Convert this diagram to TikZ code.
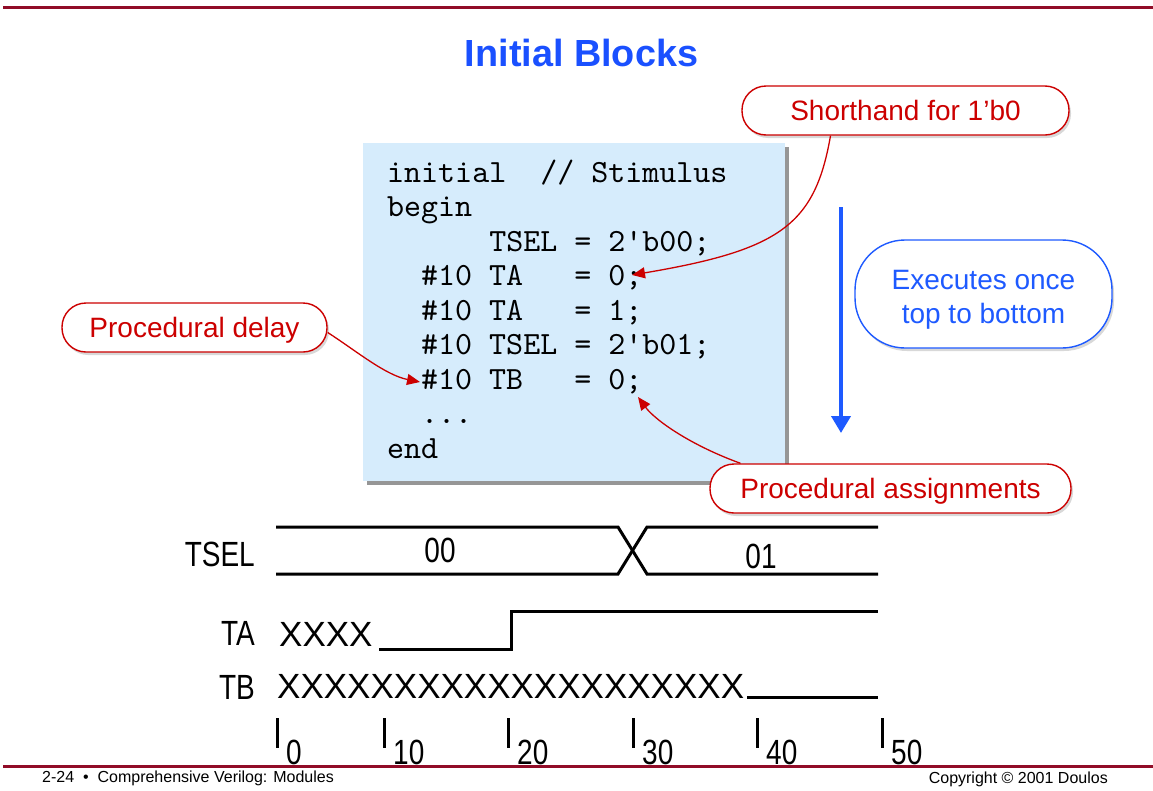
\documentclass[tikz,border=0pt]{standalone}
\usepackage{fontspec}
\setmainfont{Liberation Sans}
\setmonofont{lmmono10-regular}[Extension=.otf]
\newfontfamily\narrowfont{Liberation Sans}[FakeStretch=0.8]
\usetikzlibrary{arrows.meta,shadows}

\definecolor{titleblue}{RGB}{26,80,255}
\definecolor{noteblue}{RGB}{30,90,255}
\definecolor{notered}{RGB}{204,0,0}
\definecolor{codebg}{RGB}{214,236,252}
\definecolor{codeshadow}{RGB}{150,150,150}
\definecolor{rulered}{RGB}{145,12,40}

\begin{document}
\begin{tikzpicture}[x=1pt,y=-1pt,
  rule/.style={draw=rulered,line width=3pt},
  heading/.style={font=\bfseries\fontsize{37.8}{42}\selectfont,text=titleblue,inner sep=0},
  codeline/.style={font=\ttfamily\fontsize{32.4}{34}\selectfont,anchor=base west,inner sep=0},
  callout/.style={draw=notered,line width=1.4pt,fill=white,rounded corners=24pt,
    minimum height=49pt,text=notered,font=\fontsize{28}{34}\selectfont,inner sep=0,
    text height=26pt,text depth=6pt,
    drop shadow={shadow xshift=2pt,shadow yshift=-3pt,fill=black!30,opacity=0.5}},
  bluenote/.style={draw=noteblue,line width=1.4pt,fill=white,rounded corners=50pt,
    text=noteblue,font=\fontsize{28}{34}\selectfont,align=center,inner sep=0,
    text height=60pt,text depth=2pt,
    drop shadow={shadow xshift=2pt,shadow yshift=-3pt,fill=black!30,opacity=0.5}},
  pointer/.style={draw=notered,line width=1.3pt,-{Triangle[length=13pt,width=11pt]},fill=none},
  flow/.style={draw=noteblue,line width=4pt,-{Triangle[length=17pt,width=19pt]}},
  wave/.style={line width=3pt},
  sig/.style={font=\narrowfont\fontsize{35}{40}\selectfont,inner sep=0},
  xs/.style={font=\fontsize{35}{40}\selectfont,inner sep=0,anchor=base west},
  footer/.style={font=\fontsize{16}{19}\selectfont,inner sep=0}]
\useasboundingbox (0,0) rectangle (1153,790);

% header and footer rules
\draw[rule] (3,7) -- (1153,7);
\draw[rule] (3,766) -- (1153,766);

% title
\node[heading,anchor=base] (title) at (581.5,66) {Initial Blocks};

% code listing
\node[fill=codebg,minimum width=422pt,minimum height=338pt,inner sep=0,anchor=north west,
  drop shadow={shadow xshift=4pt,shadow yshift=-4pt,fill=codeshadow,opacity=1}]
  (codebox) at (363,143) {};
\node[codeline] (l1) at (387,182)   {initial~~//~Stimulus};
\node[codeline] (l2) at (387,216.5) {begin};
\node[codeline] (l3) at (387,251)   {~~~~~~TSEL~=~2'b00;};
\node[codeline] (l4) at (387,285.5) {~~\#10~TA~~~=~0;};
\node[codeline] (l5) at (387,320)   {~~\#10~TA~~~=~1;};
\node[codeline] (l6) at (387,354.5) {~~\#10~TSEL~=~2'b01;};
\node[codeline] (l7) at (387,389)   {~~\#10~TB~~~=~0;};
\node[codeline] (l8) at (387,423.5) {~~...};
\node[codeline] (l9) at (387,458)   {end};

% annotations
\node[callout,minimum width=327pt] (shorthand) at (905.5,110.5) {Shorthand for 1’b0};
\node[bluenote,minimum width=257pt,minimum height=108pt] (once) at (983.5,294) {Executes once\\top to bottom};
\node[callout,minimum width=265pt] (delay) at (194.5,327.5) {Procedural delay};
\node[callout,minimum width=361pt] (assign) at (890.5,488.5) {Procedural assignments};

\coordinate (zeroTA) at (632,275);
\coordinate (hashTB) at (420,382);
\coordinate (zeroTB) at (638,397);
\coordinate (flowtop) at (841,207);
\coordinate (flowend) at (841,433);

\draw[pointer] ([xshift=-75pt]shorthand.south) .. controls (815,225) and (780,250) .. (zeroTA);
\draw[pointer] ([yshift=-5pt]delay.east) .. controls (355,350) and (385,375) .. (hashTB);
\draw[pointer] ([xshift=-150pt]assign.north) .. controls (690,445) and (655,420) .. (zeroTB);
\draw[flow] (flowtop) -- (flowend);

% timing diagram: TSEL
\node[sig,anchor=base east] (tsel) at (255,566) {TSEL};
\draw[wave] (276,527) -- (618,527) -- (647,574) -- (878,574);
\draw[wave] (276,574) -- (618,574) -- (647,527) -- (878,527);
\node[sig,anchor=base] (v00) at (440,562) {00};
\node[sig,anchor=base] (v01) at (761,568) {01};

% TA
\node[sig,anchor=base east] (ta) at (255,645) {TA};
\node[xs] (tax) at (279,646.5) {XXXX};
\draw[wave] (379,649) -- (511,649) -- (511,611) -- (878,611);

% TB
\node[sig,anchor=base east] (tb) at (255,699) {TB};
\node[xs] (tbx) at (277,698.5) {XXXXXXXXXXXXXXXXXXXX};
\draw[wave] (747,697) -- (878,697);

% time axis
\foreach \x/\t in {277/0,384/10,508/20,633/30,757/40,882/50}{
  \draw[wave] (\x,718) -- (\x,748);
  \node[sig,anchor=base west] (t\t) at (\x+9,764) {\t};
}

% footer
\node[footer,anchor=base west] (pageno) at (42,782) {2-24 ~•~ Comprehensive Verilog: Modules};
\node[footer,anchor=base east] (copy) at (1108,783) {Copyright © 2001 Doulos};
\end{tikzpicture}
\end{document}
